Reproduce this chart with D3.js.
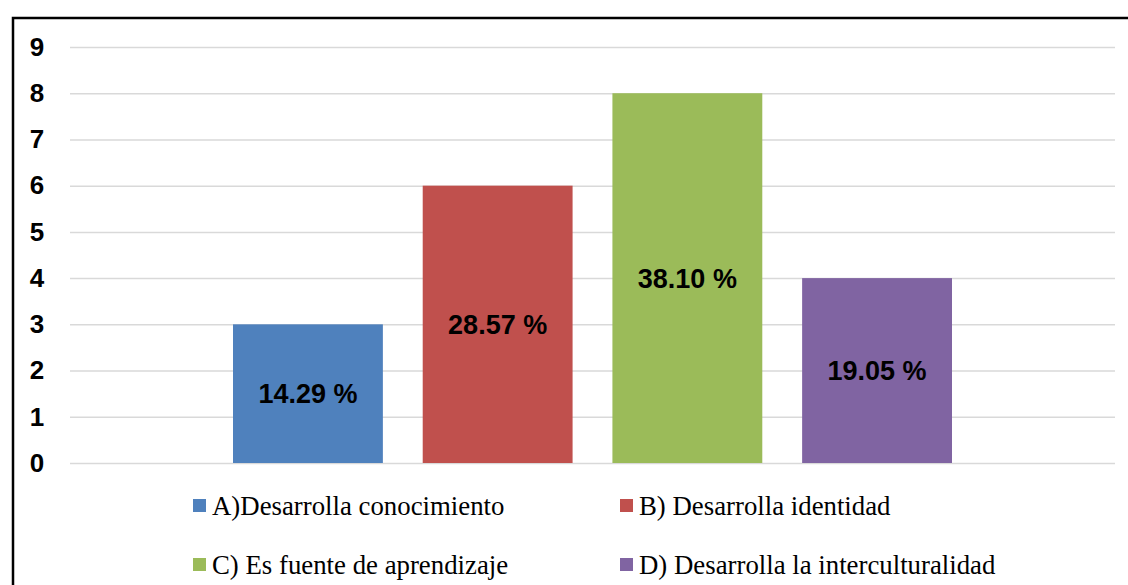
<!DOCTYPE html>
<html>
<head>
<meta charset="utf-8">
<script src="https://cdn.jsdelivr.net/npm/d3@7"></script>
<style>
    body { margin: 0; background: #fff; }
    #chart { width: 1128px; height: 585px; }
</style>
</head>
<body>
<div id="chart"></div>
<script>
//Datos
const series = ['A)Desarrolla conocimiento', 'B) Desarrolla identidad', 'C) Es fuente de aprendizaje', 'D) Desarrolla la interculturalidad'];
const valores = [3, 6, 8, 4];
const porcentajes = ['14.29 %', '28.57 %', '38.10 %', '19.05 %'];
const ticksY = [0, 1, 2, 3, 4, 5, 6, 7, 8, 9];

//Colores fijos
const COLORES = ['#4F81BD', '#C0504D', '#9BBB59', '#8064A2'];

let W = 1128, H = 585;
let margin = {top: 47, right: 13, bottom: 122, left: 70},
    width = W - margin.left - margin.right,
    height = H - margin.top - margin.bottom;

let root = d3.select('#chart').append('svg')
    .attr('width', W)
    .attr('height', H);

//Marco
root.append('path')
    .attr('d', 'M13,585 L13,18 L1128,18')
    .attr('fill', 'none')
    .attr('stroke', '#000')
    .attr('stroke-width', 2.5);

let svg = root.append('g')
    .attr('transform', 'translate(' + margin.left + ',' + margin.top + ')');

let y = d3.scaleLinear()
    .domain([0, 9])
    .range([height, 0]);

let yAxis = function(g) {
    g.call(d3.axisLeft(y).tickValues(ticksY).tickSize(0).tickPadding(0));
    g.select('.domain').remove();
    g.selectAll('.tick line')
        .attr('x1', 0)
        .attr('x2', width)
        .attr('stroke', '#d9d9d9')
        .attr('stroke-width', 1.5);
    g.selectAll('.tick text')
        .attr('x', -33)
        .attr('text-anchor', 'middle')
        .attr('font-family', '"Liberation Sans", Arial, sans-serif')
        .attr('font-weight', 'bold')
        .attr('font-size', '26px')
        .attr('fill', '#000');
};

svg.append('g').call(yAxis);

//Una sola categoría con cuatro series
let x = d3.scaleBand()
    .domain(series)
    .range([163, width - 163])
    .paddingInner(0.21)
    .paddingOuter(0);

let color = d3.scaleOrdinal()
    .domain(series)
    .range(COLORES);

let datos = series.map(function(s, i) { return {key: s, value: valores[i], label: porcentajes[i]}; });

svg.selectAll('.rect')
    .data(datos)
    .enter()
    .append('rect')
    .attr('class', 'rect')
    .attr('x', function(d) { return x(d.key); })
    .attr('width', x.bandwidth())
    .attr('y', function(d) { return y(d.value); })
    .attr('height', function(d) { return height - y(d.value); })
    .attr('fill', function(d) { return color(d.key); });

svg.selectAll('.label')
    .data(datos)
    .enter()
    .append('text')
    .attr('class', 'label')
    .attr('x', function(d) { return x(d.key) + x.bandwidth() / 2; })
    .attr('y', function(d) { return (y(d.value) + y(0)) / 2; })
    .attr('dy', '0.35em')
    .attr('text-anchor', 'middle')
    .attr('font-family', '"Liberation Sans", Arial, sans-serif')
    .attr('font-weight', 'bold')
    .attr('font-size', '27px')
    .attr('fill', '#000')
    .text(function(d) { return d.label; });

//Leyenda
let legX = [193, 620], legY = [506, 565];
let leyenda = root.selectAll('.leg')
    .data(datos)
    .enter()
    .append('g')
    .attr('class', 'leg')
    .attr('transform', function(d, i) { return 'translate(' + legX[i % 2] + ',' + legY[Math.floor(i / 2)] + ')'; });

leyenda.append('rect')
    .attr('x', 0)
    .attr('y', -7)
    .attr('width', 13)
    .attr('height', 13)
    .attr('fill', function(d) { return color(d.key); });

leyenda.append('text')
    .attr('x', 19)
    .attr('y', 0)
    .attr('dy', '0.35em')
    .attr('font-family', '"Liberation Serif", "Times New Roman", serif')
    .attr('font-size', '26.8px')
    .attr('fill', '#000')
    .text(function(d) { return d.key; });
</script>
</body>
</html>
